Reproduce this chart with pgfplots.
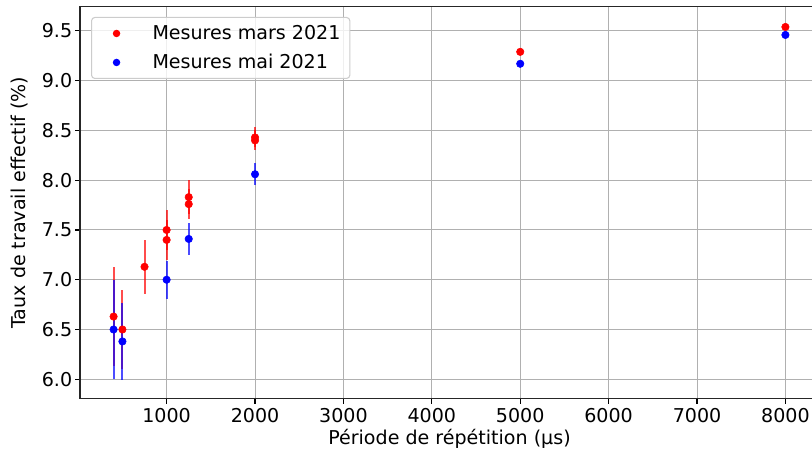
\documentclass[border=0pt]{standalone}
\usepackage{fontspec}
\setmainfont{DejaVu Sans}
\usepackage{pgfplots}
\pgfplotsset{compat=1.18}
\newcommand{\fs}{\fontsize{14.3}{17}\selectfont}
\begin{document}
\begin{tikzpicture}
\begin{axis}[
  scale only axis,
  width=554.25pt, height=294pt,
  xmin=20, xmax=8380, ymin=5.805, ymax=9.744,
  xtick={1000,2000,3000,4000,5000,6000,7000,8000},
  ytick={6,6.5,7,7.5,8,8.5,9,9.5},
  yticklabel={\pgfmathprintnumber[fixed,fixed zerofill,precision=1]{\tick}},
  /pgf/number format/1000 sep={},
  /pgf/number format/assume math mode=true,
  tick pos=left,
  tick align=outside,
  major tick length=3.7pt,
  tick style={line width=0.8pt, black},
  grid=major,
  major grid style={line width=0.75pt, color=black!31},
  axis line style={line width=0.8pt, black!85},
  every tick label/.append style={font=\fs},
  xticklabel style={inner sep=0pt, anchor=north, yshift=-3pt},
  yticklabel style={inner sep=0pt, anchor=east, xshift=-2pt},
  every axis x label/.style={at={(axis description cs:0.5,0)}, yshift=-30.2pt, anchor=center, font=\fs},
  every axis y label/.style={at={(axis description cs:-0.0812,0.5)}, rotate=90, anchor=center, font=\fs},
  xlabel={Période de répétition (µs)},
  ylabel={Taux de travail effectif (\%)},
  legend style={at={(0.0149,0.9738)}, anchor=north west, font=\fs,
    draw=black!20, line width=0.8pt, rounded corners=2.5pt, fill=white, fill opacity=0.8, text opacity=1,
    inner xsep=7pt, inner ysep=3.5pt, row sep=4.75pt,
    nodes={inner sep=0pt, text height=13pt, text depth=4pt, anchor=west}},
  legend cell align=left,
]
\addplot[only marks, mark=*, mark size=2.8pt, color=red, mark options={fill=red, draw=red},
  legend image code/.code={\path[draw=none, fill=none] (0pt,0) -- (38.75pt,0); \path[draw=none, fill=red, fill opacity=1] (11.75pt,0) circle (2.8pt);},
  error bars/.cd, y dir=both, y explicit, error mark=none,
  error bar style={line width=1.5pt, red, opacity=0.7}]
  coordinates {
  (400,6.63) +- (0,0.5)
  (500,6.50) +- (0,0.4)
  (750,7.13) +- (0,0.27)
  (1000,7.50) +- (0,0.2)
  (1000,7.40) +- (0,0.2)
  (1250,7.83) +- (0,0.17)
  (1250,7.76) +- (0,0.15)
  (2000,8.43) +- (0,0.1)
  (2000,8.40) +- (0,0.1)
  (5000,9.29) +- (0,0.02)
  (8000,9.54) +- (0,0.02)
  };
\addlegendentry{Mesures mars 2021}
\addplot[only marks, mark=*, mark size=2.8pt, color=blue, mark options={fill=blue, draw=blue},
  legend image code/.code={\path[draw=none, fill=none] (0pt,0) -- (38.75pt,0); \path[draw=none, fill=blue, fill opacity=1] (11.75pt,0) circle (2.8pt);},
  error bars/.cd, y dir=both, y explicit, error mark=none,
  error bar style={line width=1.5pt, blue, opacity=0.7}]
  coordinates {
  (400,6.50) +- (0,0.5)
  (500,6.38) +- (0,0.39)
  (1000,7.00) +- (0,0.19)
  (1250,7.41) +- (0,0.16)
  (2000,8.06) +- (0,0.11)
  (5000,9.17) +- (0,0.01)
  (8000,9.46) +- (0,0.01)
  };
\addlegendentry{Mesures mai 2021}
\end{axis}
\pgfresetboundingbox
\path[use as bounding box] ([shift={(-60pt,-43.7pt)}]current axis.south west) rectangle ([shift={(549pt,299pt)}]current axis.south west);
\end{tikzpicture}
\end{document}
